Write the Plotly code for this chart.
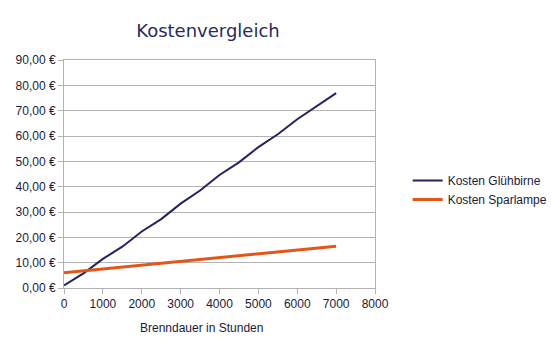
import plotly.graph_objects as go

hours = [0, 500, 1000, 1500, 2000, 2500, 3000, 3500, 4000, 4500, 5000, 5500, 6000, 6500, 7000]
kosten_gluehbirne = [1.0, 5.8, 11.5, 16.3, 22.3, 27.2, 33.3, 38.5, 44.6, 49.6, 55.6, 60.7, 66.6, 71.8, 76.9]
hours_spar = [0, 1000, 2000, 3000, 4000, 5000, 6000, 7000]
kosten_spar = [6.0, 7.5, 9.0, 10.5, 12.0, 13.5, 15.0, 16.5]

ytick_vals = [0, 10, 20, 30, 40, 50, 60, 70, 80, 90]
ytick_text = [f"{v:.2f}".replace(".", ",") + " €" for v in ytick_vals]
xtick_vals = [0, 1000, 2000, 3000, 4000, 5000, 6000, 7000, 8000]

text_color = "#1a1a3a"
grid_color = "#b3b3b3"

fig = go.Figure()
fig.add_trace(go.Scatter(x=hours, y=kosten_gluehbirne, mode="lines", name="Kosten Glühbirne",
                         line=dict(color="#232360", width=2)))
fig.add_trace(go.Scatter(x=hours_spar, y=kosten_spar, mode="lines", name="Kosten Sparlampe",
                         line=dict(color="#e25618", width=3)))

fig.update_layout(
    width=557, height=350,
    margin=dict(l=64, r=182, t=60, b=62, autoexpand=False),
    paper_bgcolor="white", plot_bgcolor="white",
    title=dict(text="Kostenvergleich", x=208 / 557, xanchor="center", y=1 - 31 / 350, yanchor="middle",
               font=dict(family="DejaVu Sans", size=18, color="#2a2a5a")),
    font=dict(family="Liberation Sans", size=12, color=text_color),
    showlegend=True,
    legend=dict(x=1.105, y=0.43, xanchor="left", yanchor="middle", bgcolor="rgba(0,0,0,0)",
                font=dict(family="Liberation Sans", size=12, color=text_color),
                tracegroupgap=0, itemwidth=30),
    annotations=[dict(text="Brenndauer in Stunden", xref="paper", yref="paper",
                      x=(201 - 64) / 311, y=-(328 - 288) / 228, xanchor="center", yanchor="middle",
                      showarrow=False, font=dict(family="Liberation Sans", size=12, color=text_color))],
)
fig.update_xaxes(range=[0, 8000], tickvals=xtick_vals, ticks="outside", ticklen=5, tickcolor=grid_color,
                 showgrid=False, showline=True, linecolor=grid_color, linewidth=1, mirror=True,
                 zeroline=False, tickfont=dict(size=12, color=text_color))
fig.update_yaxes(range=[0, 90], tickvals=ytick_vals, ticktext=ytick_text,
                 ticks="outside", ticklen=5, tickcolor=grid_color,
                 showgrid=True, gridcolor=grid_color, gridwidth=1,
                 showline=True, linecolor=grid_color, linewidth=1, mirror=True,
                 zeroline=False, tickfont=dict(size=12, color=text_color))

fig.write_html("out.html")
